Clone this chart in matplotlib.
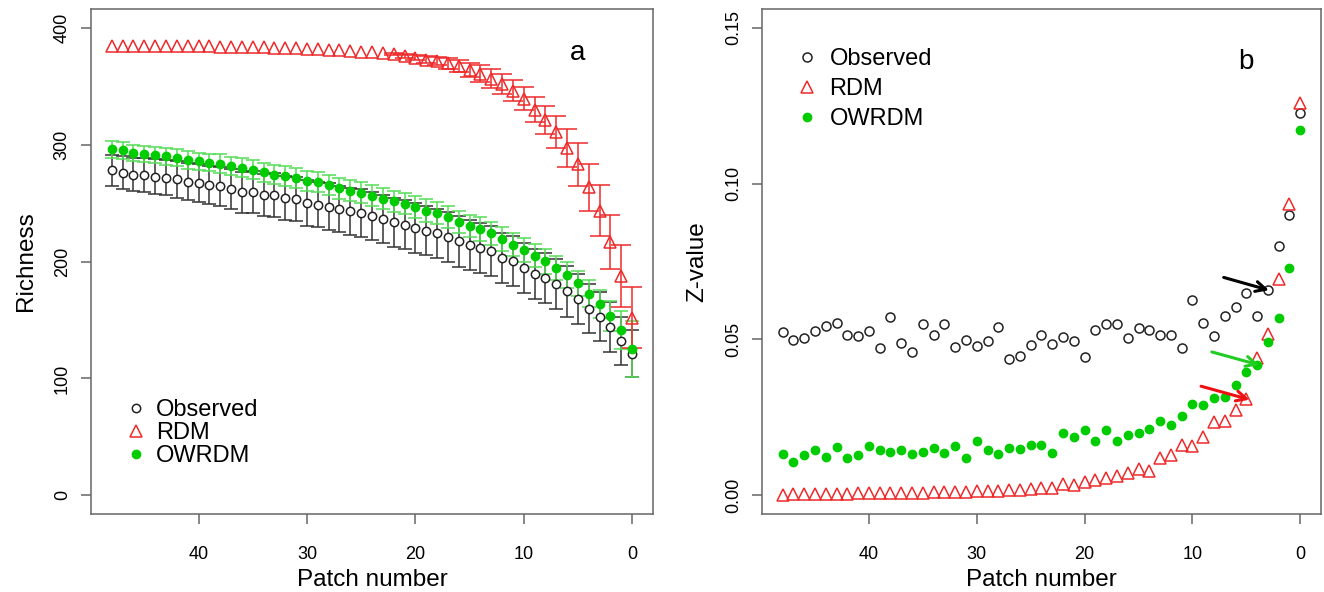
import numpy as np
import matplotlib.pyplot as plt

plt.rcParams['font.family'] = ['Liberation Sans', 'DejaVu Sans']

# patch number, 48 down to 0
patch = list(range(48, -1, -1))

# panel a: richness (mean) and error bars
obs_rich = [277.9, 275.9, 274.4, 274.1, 272.7, 271.6, 270.2, 268.4, 267.3, 265.6,
            264.2, 262.2, 259.3, 259.3, 257.0, 257.0, 254.1, 253.5, 249.8, 248.7,
            247.0, 245.0, 243.0, 241.3, 238.7, 236.2, 233.5, 231.6, 228.7, 226.4,
            224.1, 220.7, 217.2, 214.4, 211.6, 208.7, 203.0, 200.7, 194.4, 189.3,
            185.8, 180.7, 174.4, 167.8, 159.8, 152.7, 144.0, 132.0, 121.2]
obs_err = [13.5, 14, 14, 14.5, 15, 15, 15.5, 16, 16, 16.5,
           17, 17, 17.5, 18, 18, 18.5, 19, 19, 19.5, 19.5,
           20, 20, 20, 20.5, 20.5, 20.5, 21, 21, 21, 21,
           21, 21.5, 21.5, 21.5, 21.5, 21.5, 21.5, 21.5, 21.5, 21.5,
           21.5, 21.5, 21.5, 21.5, 21, 21, 21, 20.5, 20]

rdm_rich = [384, 384, 384, 384, 384, 384, 384, 384, 384, 384,
            383.8, 383.6, 383.5, 383.3, 383.1, 382.9, 382.6, 382.3, 382.0, 381.6,
            381.2, 380.7, 380.2, 379.6, 379.0, 378.5, 377.4, 376.0, 374.5, 372.8,
            371.6, 369.4, 367.0, 364.2, 360.8, 356.5, 351.6, 345.9, 339.3, 330.0,
            321.3, 310.7, 297.0, 283.0, 263.6, 243.6, 217.0, 188.0, 151.8]
rdm_err = [0, 0, 0, 0, 0, 0, 0, 0, 0, 0,
           0, 0, 0, 0, 0, 0, 0, 0, 0, 0,
           0, 0, 0, 0, 0, 0, 1.0, 1.5, 2.5, 3.0,
           3.5, 4.5, 5.0, 6.0, 7.0, 8.0, 8.5, 9.0, 10.0, 11.0,
           12.0, 13.5, 16.0, 18.5, 20.0, 22.0, 23.0, 26.5, 26.0]

ow_rich = [295.9, 295.0, 293.0, 292.2, 291.3, 289.9, 288.8, 287.0, 285.6, 284.5,
           283.6, 281.6, 280.2, 278.7, 276.4, 274.4, 273.0, 271.6, 268.7, 267.8,
           265.6, 262.7, 260.7, 258.7, 256.4, 253.9, 251.6, 249.3, 246.4, 243.6,
           241.3, 237.9, 234.1, 230.7, 227.9, 224.1, 219.3, 214.4, 209.9, 205.0,
           200.1, 194.4, 188.4, 181.2, 172.6, 163.5, 153.5, 141.3, 125.0]
ow_err = [7, 7, 7, 7, 7, 7.5, 7.5, 7.5, 7.5, 7.5,
          8, 8, 8, 8, 8, 8, 8.5, 8.5, 8.5, 8.5,
          8.5, 9, 9, 9, 9, 9, 9, 9, 9.5, 9.5,
          9.5, 9.5, 9.5, 9.5, 10, 10, 10, 10, 10, 10,
          10.5, 10.5, 11, 11, 11.5, 12, 13, 16, 24]

# panel b: z-values
obs_z = [0.0524, 0.0498, 0.0504, 0.0527, 0.0544, 0.0553, 0.0514, 0.0511, 0.0527, 0.0471,
         0.0573, 0.0488, 0.0459, 0.0551, 0.0514, 0.0549, 0.0476, 0.0498, 0.0478, 0.0495,
         0.0541, 0.0436, 0.0446, 0.0482, 0.0514, 0.0486, 0.0508, 0.0495, 0.0443, 0.0531,
         0.0551, 0.0551, 0.0506, 0.0538, 0.0529, 0.0514, 0.0514, 0.0473, 0.0627, 0.0554,
         0.0511, 0.0575, 0.0604, 0.0650, 0.0575, 0.0659, 0.0801, 0.0898, 0.1225]
rdm_z = [0.0002, 0.0003, 0.0003, 0.0004, 0.0004, 0.0005, 0.0005, 0.0006, 0.0006, 0.0007,
         0.0007, 0.0008, 0.0008, 0.0009, 0.0010, 0.0010, 0.0011, 0.0012, 0.0013, 0.0014,
         0.0015, 0.0016, 0.0018, 0.0020, 0.0024, 0.0024, 0.0035, 0.0033, 0.0044, 0.0049,
         0.0054, 0.0062, 0.0071, 0.0085, 0.0078, 0.0121, 0.0128, 0.0162, 0.0157, 0.0186,
         0.0235, 0.0240, 0.0275, 0.0310, 0.0441, 0.0518, 0.0694, 0.0935, 0.1259]
ow_z = [0.0133, 0.0108, 0.0128, 0.0144, 0.0124, 0.0156, 0.0120, 0.0128, 0.0157, 0.0146,
        0.0140, 0.0146, 0.0133, 0.0140, 0.0153, 0.0137, 0.0157, 0.0120, 0.0173, 0.0144,
        0.0133, 0.0153, 0.0148, 0.0163, 0.0160, 0.0137, 0.0199, 0.0186, 0.0210, 0.0173,
        0.0210, 0.0173, 0.0192, 0.0199, 0.0212, 0.0239, 0.0224, 0.0255, 0.0294, 0.0291,
        0.0312, 0.0314, 0.0353, 0.0395, 0.0417, 0.0493, 0.0570, 0.0728, 0.1171]

# arrows (tail x, tail y, head x, head y)
arrows_b = [(7.1, 0.0699, 2.9, 0.0658, 'black'),
            (8.2, 0.0460, 3.8, 0.0418, '#22cc22'),
            (9.2, 0.0350, 4.7, 0.0307, '#ee1111')]

RED = '#ee2a2a'
GREEN = '#00cc00'
GREEN_BAR = '#55dd55'

fig = plt.figure(figsize=(13.24, 5.92), dpi=100)
ax1 = fig.add_axes([0.0687, 0.1317, 0.4245, 0.8531])
ax2 = fig.add_axes([0.5755, 0.1317, 0.4222, 0.8531])


def style(ax):
    for s in ax.spines.values():
        s.set_color('#666666')
        s.set_linewidth(1.1)
    ax.tick_params(direction='out', length=7, width=1.1, color='#666666',
                   labelsize=13, pad=7.5)
    ax.tick_params(axis='x', pad=16)
    ax.set_xlim(49.92, -1.92)
    ax.set_xticks([40, 30, 20, 10, 0])
    ax.set_xlabel('Patch number', fontsize=17.5, labelpad=4)


# panel a
ax1.errorbar(patch, obs_rich, yerr=obs_err, fmt='none', ecolor='#333333',
             elinewidth=1.1, capsize=5, capthick=1.1)
ax1.errorbar(patch, ow_rich, yerr=ow_err, fmt='none', ecolor=GREEN_BAR,
             elinewidth=1.1, capsize=5, capthick=1.1)
keep = [i for i, e in enumerate(rdm_err) if e > 0]
ax1.errorbar([patch[i] for i in keep], [rdm_rich[i] for i in keep],
             yerr=[rdm_err[i] for i in keep], fmt='none', ecolor=RED,
             elinewidth=1.1, capsize=7, capthick=1.1)
ax1.plot(patch, obs_rich, 'o', ls='none', ms=6, mfc='white', mec='#222222',
         mew=1.1, label='Observed')
ax1.plot(patch, rdm_rich, '^', ls='none', ms=9, mfc='none', mec=RED,
         mew=1.1, label='RDM')
ax1.plot(patch, ow_rich, 'o', ls='none', ms=6, mfc=GREEN, mec=GREEN,
         label='OWRDM')
style(ax1)
ax1.set_ylim(-16, 416)
ax1.set_yticks([0, 100, 200, 300, 400])
ax1.set_yticklabels(['0', '100', '200', '300', '400'], rotation=90, va='center')
ax1.set_ylabel('Richness', fontsize=17.5, labelpad=12)
ax1.text(5, 378, 'a', fontsize=20, ha='center', va='center')
ax1.legend(loc='lower left', bbox_to_anchor=(0.03, 0.06), frameon=False,
           fontsize=17, handlelength=1.0, handletextpad=0.35, labelspacing=0.05,
           borderpad=0.2)

# panel b
ax2.plot(patch, obs_z, 'o', ls='none', ms=6.5, mfc='none', mec='#222222',
         mew=1.1, label='Observed')
ax2.plot(patch, rdm_z, '^', ls='none', ms=9, mfc='none', mec=RED,
         mew=1.1, label='RDM')
ax2.plot(patch, ow_z, 'o', ls='none', ms=6, mfc=GREEN, mec=GREEN,
         label='OWRDM')
for x0, y0, x1, y1, c in arrows_b:
    ax2.annotate('', xy=(x1, y1), xytext=(x0, y0),
                 arrowprops=dict(arrowstyle='->', color=c, lw=2.2,
                                 mutation_scale=18, shrinkA=0, shrinkB=0))
style(ax2)
ax2.set_ylim(-0.006, 0.156)
ax2.set_yticks([0, 0.05, 0.10, 0.15])
ax2.set_yticklabels(['0.00', '0.05', '0.10', '0.15'], rotation=90, va='center')
ax2.set_ylabel('Z-value', fontsize=17.5, labelpad=12)
ax2.text(5, 0.139, 'b', fontsize=20, ha='center', va='center')
ax2.legend(loc='upper left', bbox_to_anchor=(0.03, 0.955), frameon=False,
           fontsize=17, handlelength=1.0, handletextpad=0.45, labelspacing=0.33,
           borderpad=0.2)

fig.savefig('out.png', dpi=100)
